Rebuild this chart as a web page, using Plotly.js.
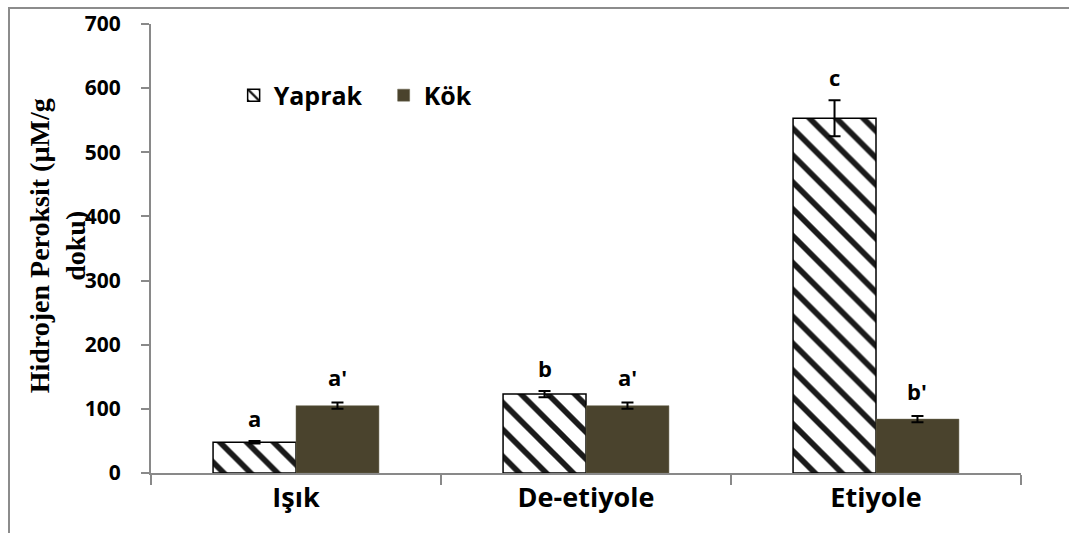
<!DOCTYPE html>
<html>
<head>
<meta charset="utf-8">
<script src="https://cdn.plot.ly/plotly-3.0.1.min.js"></script>
<style>
  html, body { margin:0; padding:0; background:#ffffff; }
  #wrap { position:relative; width:1069px; height:533px; overflow:hidden; }
  #frame { position:absolute; left:8px; top:7px; width:1100px; height:600px;
           border-top:2px solid #8c8c8c; border-left:2px solid #8c8c8c; box-sizing:border-box; }
  #chart { position:absolute; left:0; top:0; width:1069px; height:533px; }
</style>
</head>
<body>
<div id="wrap">
  <div id="frame"></div>
  <div id="chart"></div>
</div>
<script>
// ---- data ----
const categories = ['Işık', 'De-etiyole', 'Etiyole'];
const yaprakValues = [48, 123, 553];
const yaprakErrors = [2, 5, 28];
const kokValues = [105, 105, 84];
const kokErrors = [5, 5, 5];
const yaprakLetters = ['a', 'b', 'c'];
const kokLetters = ["a'", "a'", "b'"];
const seriesNames = ['Yaprak', 'Kök'];
const yTickValues = [0, 100, 200, 300, 400, 500, 600, 700];

// ---- styles ----
const axisGray = '#898989';
const kokColor = '#4a432d';
const tickFont = {family: 'Open Sans, sans-serif', size: 21, color: '#000', weight: 700};
const bargap = 0.428;

const traces = [
  {
    type: 'bar', name: seriesNames[0], x: categories, y: yaprakValues,
    marker: {
      color: '#ffffff',
      line: {color: '#000000', width: 1.5},
      pattern: {shape: '\\', fgcolor: '#1a1a1a', bgcolor: '#ffffff', size: 19, solidity: 0.3, fillmode: 'replace'}
    },
    error_y: {type: 'data', array: yaprakErrors, visible: true, color: '#000', thickness: 2, width: 6}
  },
  {
    type: 'bar', name: seriesNames[1], x: categories, y: kokValues,
    marker: {color: kokColor, line: {color: '#6b6650', width: 0.5}},
    error_y: {type: 'data', array: kokErrors, visible: true, color: '#000', thickness: 2, width: 6}
  }
];

const half = (1 - bargap) / 4;
const annotations = [];
categories.forEach((c, i) => {
  annotations.push({
    x: i - half, y: yaprakValues[i] + yaprakErrors[i], xref: 'x', yref: 'y',
    text: yaprakLetters[i], showarrow: false, yanchor: 'bottom', yshift: 6,
    font: {family: 'Open Sans, sans-serif', size: 22, color: '#000', weight: 700}
  });
  annotations.push({
    x: i + half, y: kokValues[i] + kokErrors[i], xref: 'x', yref: 'y',
    text: kokLetters[i], showarrow: false, yanchor: 'bottom', yshift: 8,
    font: {family: 'Open Sans, sans-serif', size: 22, color: '#000', weight: 700}
  });
});
annotations.push({
  xref: 'paper', yref: 'paper', x: -0.108, y: 0.505, xanchor: 'center', yanchor: 'middle',
  text: 'Hidrojen Peroksit (µM/g<br>doku)', textangle: -90, showarrow: false, align: 'center',
  font: {family: 'Liberation Serif, Times New Roman, serif', size: 28, color: '#000', weight: 700}
});

const layout = {
  width: 1069, height: 533,
  margin: {l: 151, r: 48, t: 24, b: 60, pad: 0},
  paper_bgcolor: 'rgba(0,0,0,0)', plot_bgcolor: 'rgba(0,0,0,0)',
  barmode: 'group', bargap: bargap, bargroupgap: 0,
  showlegend: true,
  legend: {
    orientation: 'h', x: 0.095, y: 0.841, xanchor: 'left', yanchor: 'middle',
    font: {family: 'Open Sans, sans-serif', size: 25, color: '#000', weight: 700},
    bgcolor: 'rgba(0,0,0,0)', entrywidth: 105, entrywidthmode: 'pixels', traceorder: 'normal'
  },
  xaxis: {
    type: 'category', showline: true, linecolor: axisGray, linewidth: 2,
    ticks: 'outside', tickson: 'boundaries', ticklen: 10, tickcolor: axisGray, tickwidth: 2,
    showgrid: false, zeroline: false,
    tickfont: {family: 'Open Sans, sans-serif', size: 27, color: '#000', weight: 700}
  },
  yaxis: {
    range: [0, 700], tickvals: yTickValues, showline: true, linecolor: axisGray, linewidth: 2,
    ticks: 'outside', ticklen: 8, tickcolor: axisGray, tickwidth: 2,
    showgrid: false, zeroline: false, ticklabelstandoff: 16,
    tickfont: tickFont
  },
  annotations: annotations
};

Plotly.newPlot('chart', traces, layout, {displayModeBar: false, staticPlot: true});
</script>
</body>
</html>
